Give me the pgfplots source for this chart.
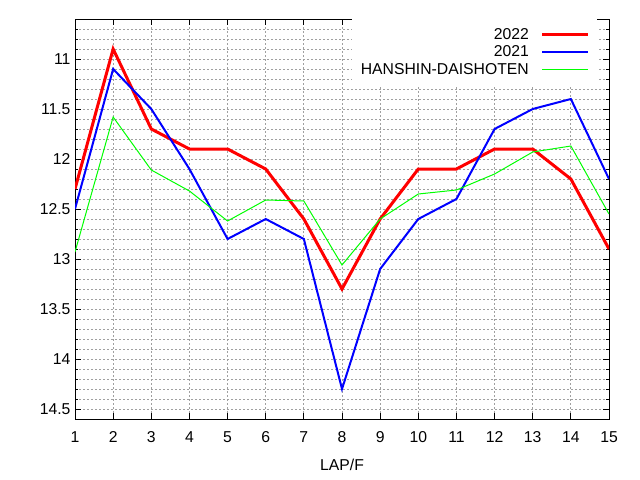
\documentclass[border=0pt]{standalone}
\usepackage{pgfplots}
\pgfplotsset{compat=1.18}
\usepackage{fontspec}
\setmainfont{Liberation Sans}
\definecolor{gridgray}{RGB}{160,160,160}
\begin{document}
\begin{tikzpicture}
\useasboundingbox (0,0) rectangle (640bp,480bp);
\begin{axis}[
  at={(75bp,61bp)}, anchor=south west,
  scale only axis, width=534bp, height=400bp,
  xmin=1, xmax=15, ymin=10.6, ymax=14.6,
  y dir=reverse,
  xtick={1,2,...,15},
  ytick={11,11.5,12,12.5,13,13.5,14,14.5},
  minor ytick={10.6,10.7,...,14.6},
  yticklabels={11,11.5,12,12.5,13,13.5,14,14.5},
  xmajorgrids, ymajorgrids, yminorgrids,
  major grid style={gridgray, line width=1bp, dash pattern=on 2bp off 2bp},
  minor grid style={gridgray, line width=1bp, dash pattern=on 2bp off 2bp},
  axis line style={black, line width=1bp},
  tick style={black, line width=1bp},
  major tick length=6bp, minor tick length=3bp,
  tick align=inside,
  /pgf/number format/assume math mode=true,
  tick label style={font=\fontsize{15.8}{18}\selectfont},
  xticklabel style={yshift=-9bp},
  yticklabel style={xshift=-1bp},
  xlabel={LAP/F},
  xlabel style={font=\fontsize{15.8}{18}\selectfont, yshift=-10bp},
  legend cell align=right,
  legend plot pos=right,
  legend style={at={(0.9775,1)}, anchor=north east, draw=none, fill=white,
    font=\fontsize{15.8}{18}\selectfont, inner xsep=7bp, inner ysep=7bp,
    row sep=1bp},
  legend image code/.code={\path (0bp,0bp); \draw[#1] (10bp,0bp) -- (56bp,0bp);},
]
\addplot[red, line width=3bp] coordinates {
 (1,12.3) (2,10.9) (3,11.7) (4,11.9) (5,11.9) (6,12.1) (7,12.6) (8,13.3)
 (9,12.6) (10,12.1) (11,12.1) (12,11.9) (13,11.9) (14,12.2) (15,12.9)};
\addlegendentry{2022}
\addplot[blue, line width=2bp] coordinates {
 (1,12.5) (2,11.1) (3,11.5) (4,12.1) (5,12.8) (6,12.6) (7,12.8) (8,14.3)
 (9,13.1) (10,12.6) (11,12.4) (12,11.7) (13,11.5) (14,11.4) (15,12.2)};
\addlegendentry{2021}
\addplot[green, line width=1bp] coordinates {
 (1,12.93) (2,11.58) (3,12.11) (4,12.32) (5,12.62) (6,12.41) (7,12.42) (8,13.06)
 (9,12.6) (10,12.35) (11,12.31) (12,12.15) (13,11.93) (14,11.87) (15,12.55)};
\addlegendentry{HANSHIN-DAISHOTEN}
\end{axis}
\end{tikzpicture}
\end{document}
